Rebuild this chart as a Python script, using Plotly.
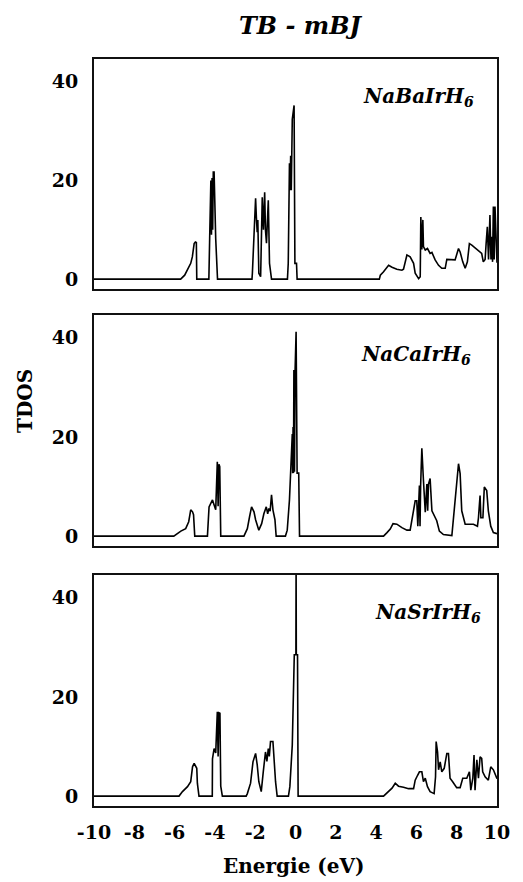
import plotly.graph_objects as go

# ---------------- data ----------------
ba_energy = [-10, -5.70, -5.50, -5.36, -5.20, -5.12, -5.03, -4.97, -4.92, -4.90,
             -4.30, -4.26, -4.20, -4.17, -4.14, -4.11, -4.08, -4.04, -3.96, -3.87,
             -2.16, -2.14, -2.06, -1.98, -1.94, -1.90, -1.87, -1.82, -1.73, -1.65, -1.59, -1.53, -1.49, -1.44, -1.35, -1.29, -1.19,
             -0.40, -0.36, -0.30, -0.27, -0.24, -0.21, -0.18, -0.16, -0.07, -0.03, 0.05, 0.08,
             4.16, 4.21, 4.37, 4.62, 4.79, 5.03, 5.28, 5.36, 5.53, 5.69, 5.86, 5.94, 6.11, 6.19, 6.22, 6.27,
             6.32, 6.35, 6.44, 6.55, 6.68, 6.77, 6.93, 7.10, 7.26, 7.43, 7.51, 7.76, 7.92, 8.09, 8.17, 8.30,
             8.42, 8.53, 8.63, 8.75, 8.83, 9.00, 9.12, 9.24, 9.32, 9.41, 9.46, 9.52, 9.58, 9.62, 9.65, 9.70,
             9.74, 9.78, 9.82, 9.86, 9.90, 10.0]
ba_tdos = [0, 0, 0.8, 2.0, 3.2, 4.5, 7.2, 7.5, 7.4, 0,
           0, 8.2, 20.0, 9.0, 20.5, 10.0, 21.7, 21.7, 8.2, 0,
           0, 1.2, 8.9, 16.4, 12.4, 9.5, 12.0, 1.2, 0.5, 16.6, 10.0, 17.6, 9.9, 7.3, 16.0, 3.2, 0,
           0, 3.2, 23.5, 18.0, 25.0, 18.0, 30.0, 32.4, 35.2, 3.2, 3.2, 0,
           0, 0.8, 1.5, 2.8, 2.4, 2.0, 1.8, 2.0, 4.9, 4.5, 3.2, 1.2, 0.1, 0.5, 12.6, 6.0,
           12.0, 6.6, 5.9, 6.2, 5.2, 5.4, 3.9, 2.8, 2.2, 2.2, 4.0, 4.0, 3.9, 6.2, 5.5, 3.5,
           2.2, 3.5, 7.2, 6.9, 6.6, 5.9, 5.5, 5.2, 3.5, 4.0, 7.2, 10.6, 4.0, 7.9, 13.0, 4.0,
           8.6, 3.5, 14.7, 4.0, 14.7, 3.3]

ca_energy = [-10, -6.04, -5.69, -5.45, -5.30, -5.20, -5.11, -5.06, -5.00,
             -4.37, -4.29, -4.12, -3.96, -3.92, -3.88, -3.84, -3.80, -3.76, -3.71,
             -2.56, -2.39, -2.28, -2.18, -2.06, -1.98, -1.82, -1.68, -1.57, -1.45, -1.38, -1.32, -1.26, -1.19, -1.12, -1.02, -0.96,
             -0.50, -0.41, -0.30, -0.16, -0.14, -0.12, -0.10, -0.08, -0.05, -0.02, 0.03, 0.08, 0.16, 0.20,
             4.37, 4.54, 4.70, 4.84, 5.03, 5.28, 5.53, 5.69, 5.78, 5.94, 6.02, 6.07, 6.15, 6.18, 6.21, 6.27,
             6.35, 6.44, 6.52, 6.56, 6.60, 6.68, 6.77, 6.85, 7.01, 7.14, 7.34, 7.76, 7.87, 8.00, 8.09, 8.17,
             8.25, 8.42, 8.58, 8.83, 9.03, 9.08, 9.16, 9.20, 9.24, 9.30, 9.37, 9.49, 9.57, 9.69, 9.82, 10.0]
ca_tdos = [0, 0, 1.0, 1.5, 2.9, 5.3, 4.9, 4.3, 0,
           0, 5.9, 7.3, 5.3, 14.0, 15.0, 6.0, 14.5, 14.0, 0,
           0, 1.5, 3.9, 5.9, 4.9, 3.3, 1.2, 2.5, 4.5, 5.9, 4.5, 5.6, 5.0, 8.3, 5.3, 3.3, 0,
           0, 1.2, 7.3, 20.6, 12.7, 22.0, 12.7, 33.5, 13.0, 33.5, 41.2, 12.7, 12.7, 0,
           0, 0.7, 1.4, 2.5, 2.4, 1.7, 1.2, 1.2, 3.4, 7.1, 7.1, 2.0, 10.2, 2.0, 10.2, 17.7,
           11.2, 4.8, 10.5, 5.1, 10.5, 11.6, 5.1, 4.4, 3.1, 1.0, 0.3, 0.1, 5.1, 11.6, 14.6, 12.6,
           5.1, 2.4, 2.4, 2.4, 2.0, 3.7, 8.2, 3.7, 3.7, 3.7, 9.9, 9.2, 5.1, 2.0, 0.7, 0.5]

sr_energy = [-10, -5.78, -5.61, -5.36, -5.20, -5.11, -5.03, -4.90, -4.87, -4.79,
             -4.13, -4.12, -4.04, -3.96, -3.88, -3.84, -3.80, -3.75, -3.71, -3.63,
             -2.45, -2.39, -2.23, -2.11, -1.98, -1.90, -1.82, -1.70, -1.60, -1.49, -1.42, -1.35, -1.30, -1.24, -1.12, -1.07, -0.99, -0.91,
             -0.35, -0.28, -0.16, -0.06, 0.02, 0.03, 0.04, 0.10, 0.13,
             4.37, 4.62, 4.79, 4.95, 5.11, 5.36, 5.61, 5.86, 5.94, 6.06, 6.15, 6.27, 6.35, 6.44, 6.55, 6.68,
             6.88, 6.95, 6.98, 7.05, 7.10, 7.18, 7.26, 7.38, 7.51, 7.59, 7.67, 7.80, 8.00, 8.17, 8.30, 8.50,
             8.63, 8.70, 8.80, 8.86, 8.91, 9.00, 9.08, 9.16, 9.24, 9.29, 9.41, 9.57, 9.69, 9.82, 9.95, 10.0]
sr_tdos = [0, 0, 0.9, 1.9, 2.9, 5.9, 6.6, 5.6, 2.6, 0,
           0, 7.5, 9.6, 8.7, 17.0, 8.0, 16.8, 16.7, 2.0, 0,
           0, 0.5, 2.6, 6.9, 8.6, 6.3, 2.9, 0.9, 4.9, 8.9, 7.0, 9.6, 8.0, 11.0, 11.0, 6.9, 2.9, 0,
           0, 1.9, 10.3, 28.5, 28.5, 48.0, 28.5, 28.5, 0,
           0, 0.9, 1.6, 2.6, 2.0, 1.8, 1.5, 1.5, 3.2, 4.2, 4.9, 4.9, 2.9, 3.6, 1.9, 0.9,
           0.5, 3.9, 11.0, 8.9, 5.3, 6.9, 4.9, 5.6, 8.6, 8.6, 3.6, 2.9, 1.7, 1.7, 3.6, 3.6,
           4.9, 1.2, 3.6, 8.3, 1.2, 7.3, 3.6, 7.9, 7.6, 4.9, 3.9, 3.2, 5.9, 5.3, 3.8, 3.5]

compounds = ["NaBaIrH<sub>6</sub>", "NaCaIrH<sub>6</sub>", "NaSrIrH<sub>6</sub>"]
energies = [ba_energy, ca_energy, sr_energy]
tdos = [ba_tdos, ca_tdos, sr_tdos]

x_ticks = [-10, -8, -6, -4, -2, 0, 2, 4, 6, 8, 10]
x_tick_labels = ["-10", "-8", "-6", "-4", "-2", "0", "2", "4", "6", "8", "10"]
y_ticks = [0, 20, 40]

# ---------------- figure ----------------
W, H = 523, 882
SERIF = "DejaVu Serif"
fig = go.Figure()

panel_px = [(59, 289), (315, 546), (575, 806)]   # top, bottom in pixels
label_pos = [(476, 97), (473, 355), (483, 613)]
x_dom = [94 / W, 497 / W]

for i in range(3):
    sfx = "" if i == 0 else str(i + 1)
    fig.add_trace(go.Scatter(
        x=energies[i], y=tdos[i], mode="lines",
        line=dict(color="black", width=1.6),
        xaxis="x" + sfx, yaxis="y" + sfx, showlegend=False,
        hoverinfo="skip"))
    top, bot = panel_px[i]
    fig.layout["xaxis" + sfx] = dict(
        domain=x_dom, range=[-10, 10], anchor="y" + sfx,
        showline=True, mirror=True, linecolor="#111", linewidth=2,
        showgrid=False, zeroline=False, ticks="",
        tickvals=x_ticks, ticktext=x_tick_labels, showticklabels=(i == 2),
        tickangle=0, automargin=False,
        ticklabelstandoff=8,
        tickfont=dict(family=SERIF, size=19, color="black", weight="bold"))
    fig.layout["yaxis" + sfx] = dict(
        domain=[1 - bot / H, 1 - top / H], range=[-2, 44.6], anchor="x" + sfx,
        showline=True, mirror=True, linecolor="#111", linewidth=2,
        showgrid=False, zeroline=False, ticks="", automargin=False,
        tickvals=y_ticks, ticklabelstandoff=10,
        tickfont=dict(family=SERIF, size=19, color="black", weight="bold"))
    lx, ly = label_pos[i]
    fig.add_annotation(
        text="<b><i>" + compounds[i] + "</i></b>", xref="paper", yref="paper",
        x=lx / W, y=1 - ly / H, xanchor="right", yanchor="middle", showarrow=False,
        font=dict(family=SERIF, size=20, color="black"))

fig.add_annotation(text="<b><i>TB - mBJ</i></b>", xref="paper", yref="paper",
                   x=300 / W, y=1 - 26 / H, xanchor="center", yanchor="middle",
                   showarrow=False, font=dict(family=SERIF, size=24, color="black"))
fig.add_annotation(text="<b>TDOS</b>", xref="paper", yref="paper",
                   x=25 / W, y=1 - 401 / H, xanchor="center", yanchor="middle",
                   textangle=-90, showarrow=False,
                   font=dict(family=SERIF, size=20, color="black"))
fig.add_annotation(text="<b>Energie (eV)</b>", xref="paper", yref="paper",
                   x=293 / W, y=1 - 866 / H, xanchor="center", yanchor="middle",
                   showarrow=False, font=dict(family=SERIF, size=20, color="black"))

fig.update_layout(width=W, height=H, margin=dict(l=0, r=0, t=0, b=0),
                  paper_bgcolor="white", plot_bgcolor="white")

fig.write_html("out.html")
